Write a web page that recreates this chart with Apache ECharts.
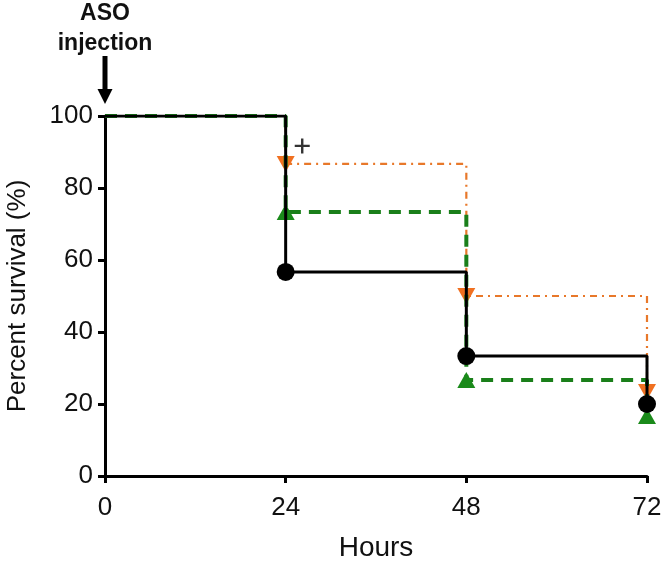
<!DOCTYPE html>
<html><head><meta charset="utf-8">
<script src="https://cdn.jsdelivr.net/npm/echarts@6/dist/echarts.min.js"></script>
<style>html,body{margin:0;padding:0;background:#fff}#c{width:664px;height:563px}</style>
</head><body><div id="c"></div>
<script>
const hours = [0, 24, 48, 72];
const blackSurv = [100, 56.7, 33.3, 20];
const orangeSurv = [100, 86.7, 50, 23.3];
const greenSurv = [100, 73.3, 26.7, 16.7];
const censoredMarks = [[26.2, 91.7]];
const xTicks = [0, 24, 48, 72];
const yTicks = [0, 20, 40, 60, 80, 100];

function pts(vals) {
  return hours.map((h, i) => i === 0 ? { value: [h, vals[i]], symbol: 'none' } : { value: [h, vals[i]] });
}
const font = 'Liberation Sans, Arial, sans-serif';
const chart = echarts.init(document.getElementById('c'));
chart.setOption({
  animation: false,
  grid: { left: 105, right: 17, top: 116, bottom: 87, containLabel: false, outerBoundsMode: 'none' },
  xAxis: {
    type: 'value', min: 0, max: 72, interval: 24,
    name: 'Hours', nameLocation: 'middle', nameGap: 58,
    nameTextStyle: { fontFamily: font, fontSize: 28, color: '#111' },
    axisLine: { lineStyle: { color: '#000', width: 3 } },
    axisTick: { length: 7, lineStyle: { color: '#000', width: 3 } },
    axisLabel: { fontFamily: font, fontSize: 26, color: '#111', margin: 19,
      formatter: v => xTicks.includes(v) ? String(v) : '' },
    splitLine: { show: false }
  },
  yAxis: {
    type: 'value', min: 0, max: 100, interval: 20,
    name: 'Percent survival (%)', nameLocation: 'middle', nameGap: 74, nameRotate: 90,
    nameTextStyle: { fontFamily: font, fontSize: 26, color: '#111' },
    axisLine: { lineStyle: { color: '#000', width: 3 } },
    axisTick: { length: 7, lineStyle: { color: '#000', width: 3 } },
    axisLabel: { fontFamily: font, fontSize: 26, color: '#111', margin: 12,
      formatter: v => yTicks.includes(v) ? String(v) : '' },
    splitLine: { show: false }
  },
  series: [
    { type: 'line', step: 'end', data: pts(orangeSurv), showAllSymbol: true,
      symbol: 'triangle', symbolRotate: 180, symbolSize: [18, 16],
      itemStyle: { color: '#F07020' },
      lineStyle: { color: '#E8782A', width: 2.2, type: [7, 5, 2, 5] }, z: 2 },
    { type: 'line', step: 'end', data: pts(greenSurv), showAllSymbol: true,
      symbol: 'triangle', symbolSize: [18, 16],
      itemStyle: { color: '#1A8A1A' },
      lineStyle: { color: '#1A7F1A', width: 4, type: [12, 8] }, z: 3 },
    { type: 'line', step: 'end', data: pts(blackSurv), showAllSymbol: true,
      symbol: 'circle', symbolSize: 18,
      itemStyle: { color: '#000' },
      lineStyle: { color: '#000', width: 3 }, z: 4 },
    { type: 'scatter', data: censoredMarks,
      symbol: 'path://M4.2,0 H5.8 V4.2 H10 V5.8 H5.8 V10 H4.2 V5.8 H0 V4.2 H4.2 Z', symbolSize: 15,
      itemStyle: { color: '#000' }, z: 5 }
  ]
});
const p = chart.convertToPixel({ gridIndex: 0 }, [0, 100]);
const x0 = p[0], yTop = p[1];
chart.setOption({
  graphic: [
    { type: 'text', style: { text: 'ASO', x: x0, y: 14, align: 'center', verticalAlign: 'middle',
      font: 'bold 23px Liberation Sans, sans-serif', fill: '#111' } },
    { type: 'text', style: { text: 'injection', x: x0, y: 44, align: 'center', verticalAlign: 'middle',
      font: 'bold 23px Liberation Sans, sans-serif', fill: '#111' } },
    { type: 'line', shape: { x1: x0, y1: 56, x2: x0, y2: yTop - 24 }, style: { stroke: '#000', lineWidth: 5 } },
    { type: 'polygon', shape: { points: [[x0 - 7.5, yTop - 27], [x0 + 7.5, yTop - 27], [x0, yTop - 12]] }, style: { fill: '#000' } }
  ]
});
</script></body></html>
